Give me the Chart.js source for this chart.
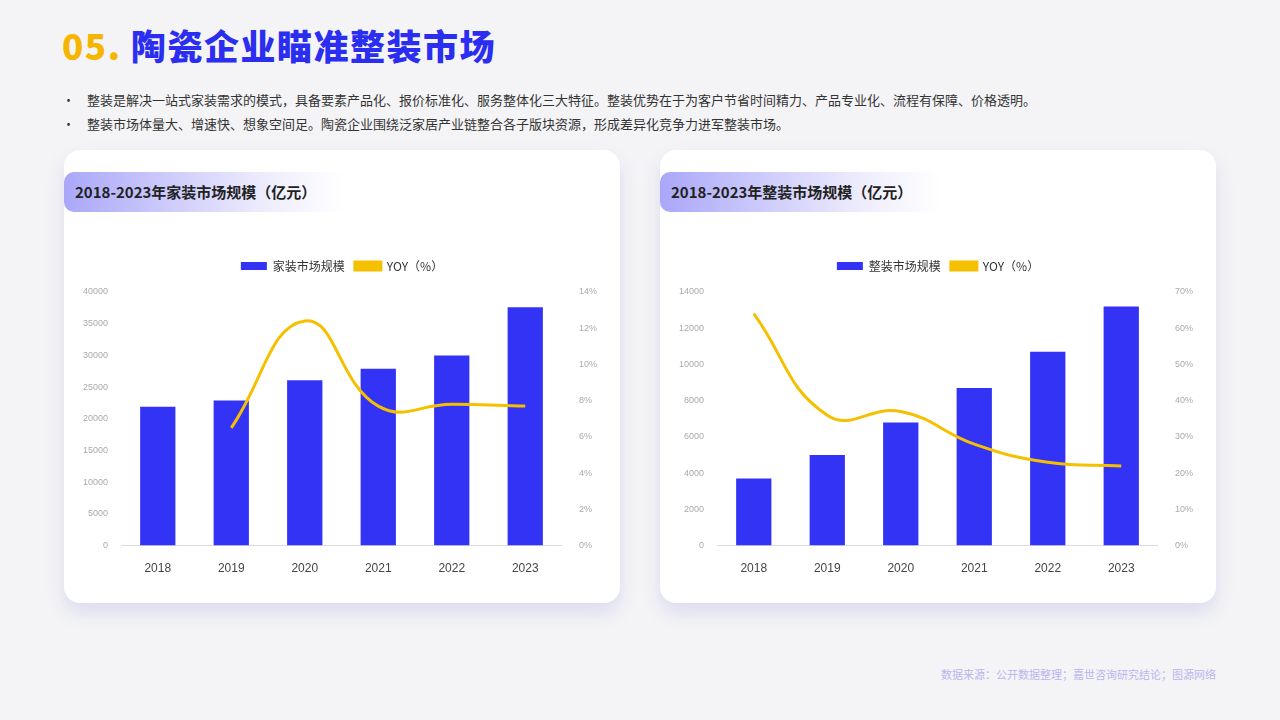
<!DOCTYPE html>
<html><head><meta charset="utf-8">
<script src="https://cdn.jsdelivr.net/npm/chart.js@4/dist/chart.umd.min.js"></script>
<style>
body{margin:0;width:1280px;height:720px;background:#f4f4f6;font-family:"Noto Sans CJK SC","Noto Sans",sans-serif;position:relative;overflow:hidden}
.t{position:absolute;left:62px;top:19px;font-size:35px;font-weight:900;color:#2b2ef0;letter-spacing:1.5px}
.t span{color:#f7b500}
.b{position:absolute;left:62px;font-size:13px;color:#333}
.b:before{content:"•";margin-right:12px}
.card{position:absolute;top:150px;width:556px;height:453px;background:#fff;border-radius:16px;box-shadow:0 10px 18px rgba(190,190,235,0.45)}
.h{position:absolute;top:22px;left:0;width:280px;height:40px;border-radius:10px 0 0 10px;background:linear-gradient(90deg,#aaa7f9,#ecebfd 70%,#fff);font-size:15px;font-weight:bold;color:#222;line-height:40px;padding-left:11px;box-sizing:border-box}
canvas{position:absolute}
.s{position:absolute;right:64px;top:666px;font-size:11px;color:#b9b6ee}
</style></head><body>
<div class="t"><span>05.</span> 陶瓷企业瞄准整装市场</div>
<div class="b" style="top:90px">整装是解决一站式家装需求的模式，具备要素产品化、报价标准化、服务整体化三大特征。整装优势在于为客户节省时间精力、产品专业化、流程有保障、价格透明。</div>
<div class="b" style="top:114px">整装市场体量大、增速快、想象空间足。陶瓷企业围绕泛家居产业链整合各子版块资源，形成差异化竞争力进军整装市场。</div>
<div class="card" style="left:64px"><div class="h">2018-2023年家装市场规模（亿元）</div></div>
<div class="card" style="left:660px"><div class="h">2018-2023年整装市场规模（亿元）</div></div>
<canvas id="c1" style="left:78px;top:250px" width="528" height="338"></canvas>
<canvas id="c2" style="left:674px;top:250px" width="528" height="338"></canvas>
<div class="s">数据来源：公开数据整理；嘉世咨询研究结论；图源网络</div>
<script>
const years=['2018','2019','2020','2021','2022','2023'];
const homeSize=[21900,22900,26100,27900,30000,37600];
const homeYoy=[null,6.5,12.4,7.7,7.8,7.7];
const fullSize=[3700,5000,6800,8700,10700,13200];
const fullYoy=[64,36,37,28,23,22];
const lp={id:'lp',beforeInit(c){const f=c.legend.fit;c.legend.fit=function(){f.call(this);this.height+=10;}}};
function mk(id,label,bars,yoy,lmax,lstep,rmax,rstep){
new Chart(document.getElementById(id),{data:{labels:years,datasets:[
{type:'line',label:'YOY（%）',data:yoy,yAxisID:'y1',borderColor:'#f5c000',backgroundColor:'#f5c000',borderWidth:3,pointRadius:0,tension:0.45,order:0},
{type:'bar',label:label,data:bars,yAxisID:'y',backgroundColor:'#3333f5',categoryPercentage:1,barPercentage:0.48,order:1}]},
options:{responsive:false,animation:false,layout:{padding:{left:0,right:0,top:0,bottom:4}},
plugins:{legend:{reverse:true,labels:{boxWidth:26,boxHeight:8,font:{size:12,family:'Noto Sans CJK SC'},color:'#333',padding:10}},tooltip:{enabled:false}},
scales:{x:{grid:{display:false},border:{color:'#dcdce4'},ticks:{color:'#444',font:{size:12},padding:8}},
y:{min:0,max:lmax,ticks:{stepSize:lstep,color:'#aaa',font:{size:9},padding:5,callback:v=>String(v)},grid:{display:false},border:{display:false}},
y1:{position:'right',min:0,max:rmax,ticks:{stepSize:rstep,color:'#aaa',font:{size:9},padding:9,callback:v=>v+'%'},grid:{display:false},border:{display:false}}}},plugins:[lp]});}
mk('c1','家装市场规模',homeSize,homeYoy,40000,5000,14,2);
mk('c2','整装市场规模',fullSize,fullYoy,14000,2000,70,10);
</script></body></html>
